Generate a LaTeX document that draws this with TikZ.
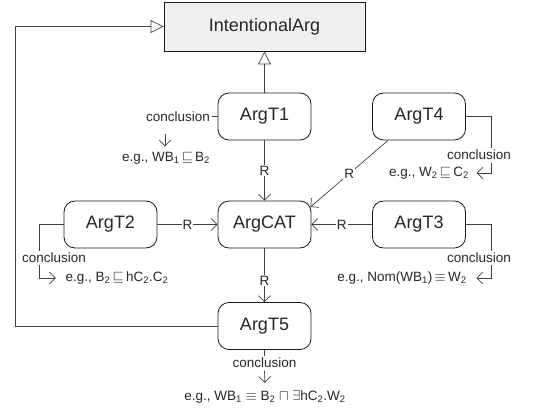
\documentclass[tikz,border=0pt]{standalone}
\usepackage{fontspec}
\setmainfont{Liberation Sans}
\usetikzlibrary{arrows.meta,positioning}

\tikzset{
  argbox/.style={draw=black!90, line width=0.8pt, rounded corners=11pt, minimum width=93pt,
    minimum height=47pt, text=black!85, font=\fontsize{18}{20}\selectfont},
  rootbox/.style={draw=black!90, line width=0.8pt, fill=gray!12, minimum width=201pt,
    minimum height=49pt, text=black!85, font=\fontsize{18}{20}\selectfont},
  lbl/.style={font=\fontsize{13.5}{15}\selectfont, text=black!85, inner sep=1.5pt},
  rlbl/.style={lbl, fill=white, inner sep=1pt},
  rel/.style={draw=black!75, line width=0.7pt, -{Straight Barb[length=6pt,width=12pt]}},
  gen/.style={draw=black!75, line width=0.7pt, -{Triangle[open,length=13pt,width=13pt]}},
  plain/.style={draw=black!75, line width=0.7pt},
}

\begin{document}
\begin{tikzpicture}[x=1pt,y=-1pt]
    \useasboundingbox (0,0) rectangle (543,409);

    % Boxes
    \node[rootbox] (iarg) at (264.5,26.5) {IntentionalArg};
    \node[argbox] (t1) at (264.5,116.5) {ArgT1};
    \node[argbox] (t4) at (419,116.5) {ArgT4};
    \node[argbox] (cat) at (264.5,224.5) {ArgCAT};
    \node[argbox] (t2) at (110.5,224.5) {ArgT2};
    \node[argbox] (t3) at (419,224.5) {ArgT3};
    \node[argbox] (t5) at (264.5,326) {ArgT5};

    % Generalisation
    \coordinate (lft) at (15,326);
    \draw[gen] (t1) -- (iarg);
    \draw[gen] (t5.west) -- (lft) |- (iarg.west);

    % R links into ArgCAT
    \foreach \src in {t1,t2,t3}
        \draw[rel] (\src) -- node[rlbl] {R} (cat);
    \draw[rel] ([xshift=-31pt]t4.south) -- node[rlbl] {R} ([xshift=-1pt,yshift=17.5pt]cat.east);
    \draw[rel] (cat) -- node[rlbl, pos=0.6] {R} (t5);

    % Conclusion labels
    \node[lbl] (c1) at (178,116.5) {conclusion};
    \node[lbl] (c4) at (479,155) {conclusion};
    \node[lbl] (c2) at (54,258) {conclusion};
    \node[lbl] (c3) at (479,258) {conclusion};
    \node[lbl] (c5) at (264.5,363) {conclusion};

    % Examples
    \node[lbl] (eg1) at (166,158) {e.g., WB\textsubscript{1}\,$\sqsubseteq$\,B\textsubscript{2}};
    \node[lbl] (eg4) at (429,173) {e.g., W\textsubscript{2}\,$\sqsubseteq$\,C\textsubscript{2}};
    \node[lbl] (eg2) at (117,278) {e.g., B\textsubscript{2}\,$\sqsubseteq$\,hC\textsubscript{2}.C\textsubscript{2}};
    \node[lbl] (eg3) at (402,278) {e.g., Nom(WB\textsubscript{1})\,$\equiv$\,W\textsubscript{2}};
    \node[lbl] (eg5) at (265,397) {e.g., WB\textsubscript{1} $\equiv$ B\textsubscript{2} $\sqcap$ $\exists$hC\textsubscript{2}.W\textsubscript{2}};

    % Bends of the conclusion lines
    \coordinate (k1) at (165,134);
    \coordinate (k4) at (491,148);
    \coordinate (k4b) at (491,163);
    \coordinate (k2) at (39,251);
    \coordinate (k2b) at (39,265);
    \coordinate (k3) at (491,251);
    \coordinate (k3b) at (491,265);

    % Conclusion connectors
    \draw[plain] (t1.west) -- (c1.east);
    \draw[rel, shorten >=4pt] (k1) -- (eg1.north -| k1);
    \draw[plain] (t4.east) -| (k4);
    \draw[rel, shorten >=6pt] (k4b) |- (eg4.east);
    \draw[plain] (t2.west) -| (k2);
    \draw[rel, shorten >=8pt] (k2b) |- (eg2.west);
    \draw[plain] (t3.east) -| (k3);
    \draw[rel, shorten >=8pt] (k3b) |- (eg3.east);
    \draw[plain] (t5.south) -- (c5.north);
    \draw[rel, shorten <=1pt, shorten >=6pt] (c5.south) -- (eg5.north);

\end{tikzpicture}
\end{document}
